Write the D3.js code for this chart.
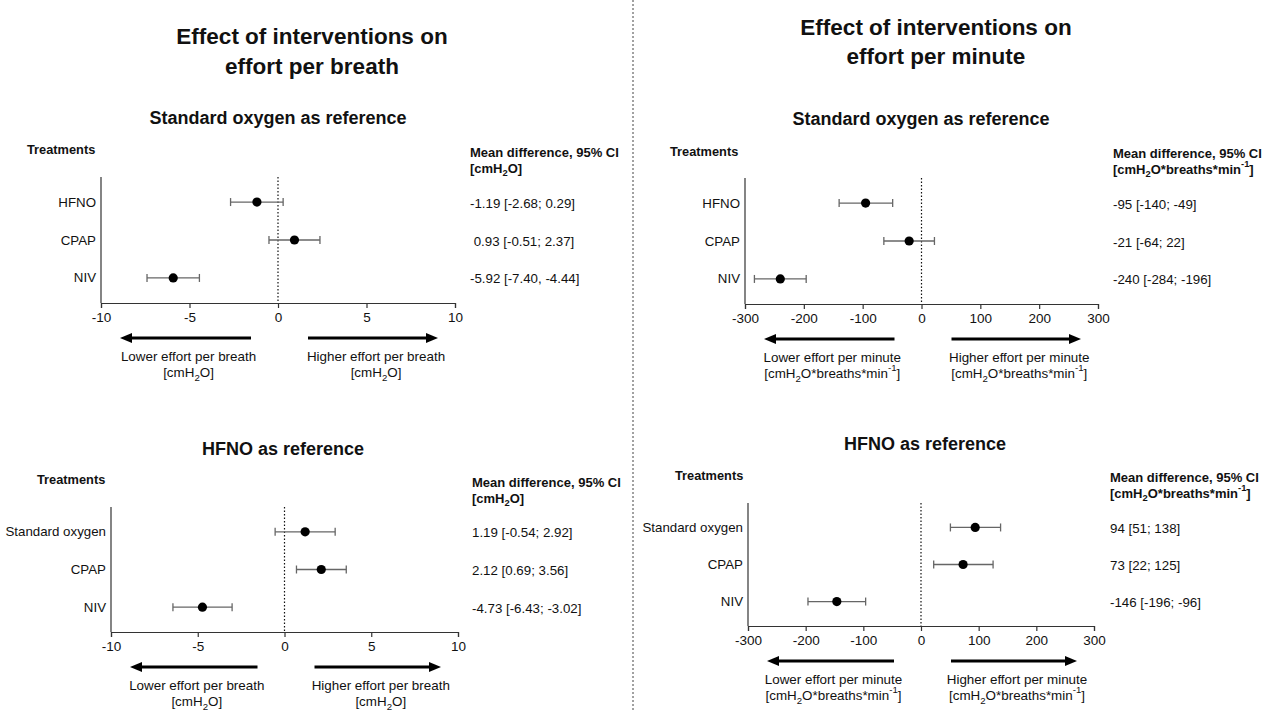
<!DOCTYPE html>
<html><head><meta charset="utf-8">
<script src="https://cdn.jsdelivr.net/npm/d3@7"></script>
<style>
html,body{margin:0;padding:0;background:#fff;}
svg text{font-family:"Liberation Sans",Arial,sans-serif;fill:#111;}
</style></head>
<body>
<svg id="chart" width="1266" height="711"></svg>
<script>
// ---------- DATA ----------
const rowsSO = ["HFNO", "CPAP", "NIV"];
const rowsHF = ["Standard oxygen", "CPAP", "NIV"];

const breathSOMean = [-1.19, 0.93, -5.92];
const breathSOLow  = [-2.68, -0.51, -7.40];
const breathSOHigh = [0.29, 2.37, -4.44];
const breathSOText = ["-1.19 [-2.68; 0.29]", " 0.93 [-0.51; 2.37]", "-5.92 [-7.40, -4.44]"];

const breathHFMean = [1.19, 2.12, -4.73];
const breathHFLow  = [-0.54, 0.69, -6.43];
const breathHFHigh = [2.92, 3.56, -3.02];
const breathHFText = ["1.19 [-0.54; 2.92]", "2.12 [0.69; 3.56]", "-4.73 [-6.43; -3.02]"];

const minuteSOMean = [-95, -21, -240];
const minuteSOLow  = [-140, -64, -284];
const minuteSOHigh = [-49, 22, -196];
const minuteSOText = ["-95 [-140; -49]", "-21 [-64; 22]", "-240 [-284; -196]"];

const minuteHFMean = [94, 73, -146];
const minuteHFLow  = [51, 22, -196];
const minuteHFHigh = [138, 125, -96];
const minuteHFText = ["94 [51; 138]", "73 [22; 125]", "-146 [-196; -96]"];

const breathTicks = [-10, -5, 0, 5, 10];
const minuteTicks = [-300, -200, -100, 0, 100, 200, 300];
const breathDomain = [-10, 10];
const minuteDomain = [-300, 300];

// ---------- LAYOUT ----------
const svg = d3.select("#chart");

// divider
svg.append("line").attr("x1", 633).attr("x2", 633).attr("y1", 0).attr("y2", 711)
  .attr("stroke", "#444").attr("stroke-width", 1).attr("stroke-dasharray", "2,2");

function unitText(sel, kind) {
  sel.append("tspan").text("[cmH");
  sel.append("tspan").attr("baseline-shift", "sub").attr("font-size", "0.72em").text("2");
  if (kind === "breath") {
    sel.append("tspan").text("O]");
  } else {
    sel.append("tspan").text("O*breaths*min");
    sel.append("tspan").attr("baseline-shift", "super").attr("font-size", "0.72em").text("-1");
    sel.append("tspan").text("]");
  }
}

function title(lines, cx, ys) {
  lines.forEach((t, i) => {
    svg.append("text").attr("x", cx).attr("y", ys[i]).attr("text-anchor", "middle")
      .attr("dominant-baseline", "central").attr("font-size", 22.5).attr("font-weight", "bold").text(t);
  });
}
title(["Effect of interventions on", "effort per breath"], 312, [36, 66]);
title(["Effect of interventions on", "effort per minute"], 936, [27, 56]);

const panels = [
  { sub: "Standard oxygen as reference", subX: 278, subY: 118, trX: 27, trY: 149,
    x0: 101, x1: 455, yTop: 177, yBot: 303, hdrX: 470, hdrY: 152,
    rows: rowsSO, mean: breathSOMean, low: breathSOLow, high: breathSOHigh, txt: breathSOText,
    domain: breathDomain, ticks: breathTicks, kind: "breath",
    lowLbl: "Lower effort per breath", highLbl: "Higher effort per breath" },
  { sub: "HFNO as reference", subX: 283, subY: 449, trX: 37, trY: 479,
    x0: 111, x1: 458, yTop: 507, yBot: 632, hdrX: 472, hdrY: 482,
    rows: rowsHF, mean: breathHFMean, low: breathHFLow, high: breathHFHigh, txt: breathHFText,
    domain: breathDomain, ticks: breathTicks, kind: "breath",
    lowLbl: "Lower effort per breath", highLbl: "Higher effort per breath" },
  { sub: "Standard oxygen as reference", subX: 921, subY: 119, trX: 670, trY: 151,
    x0: 745, x1: 1098, yTop: 178, yBot: 304, hdrX: 1113, hdrY: 153,
    rows: rowsSO, mean: minuteSOMean, low: minuteSOLow, high: minuteSOHigh, txt: minuteSOText,
    domain: minuteDomain, ticks: minuteTicks, kind: "minute",
    lowLbl: "Lower effort per minute", highLbl: "Higher effort per minute" },
  { sub: "HFNO as reference", subX: 925, subY: 444, trX: 675, trY: 475,
    x0: 748, x1: 1094, yTop: 503, yBot: 626, hdrX: 1110, hdrY: 477,
    rows: rowsHF, mean: minuteHFMean, low: minuteHFLow, high: minuteHFHigh, txt: minuteHFText,
    domain: minuteDomain, ticks: minuteTicks, kind: "minute",
    lowLbl: "Lower effort per minute", highLbl: "Higher effort per minute" }
];

panels.forEach(p => {
  const g = svg.append("g");
  const x = d3.scaleLinear().domain(p.domain).range([p.x0, p.x1]);
  const y = d3.scalePoint().domain(p.rows).range([p.yTop, p.yBot]).padding(0.66);

  g.append("text").attr("x", p.subX).attr("y", p.subY).attr("text-anchor", "middle")
    .attr("dominant-baseline", "central").attr("font-size", 18).attr("font-weight", "bold").text(p.sub);
  g.append("text").attr("x", p.trX).attr("y", p.trY).attr("dominant-baseline", "central")
    .attr("font-size", 12.8).attr("font-weight", "bold").text("Treatments");

  // header
  g.append("text").attr("x", p.hdrX).attr("y", p.hdrY).attr("dominant-baseline", "central")
    .attr("font-size", 13).attr("font-weight", "bold").text("Mean difference, 95% CI");
  const h2 = g.append("text").attr("x", p.hdrX).attr("y", p.hdrY + 15.5).attr("dominant-baseline", "central")
    .attr("font-size", 13).attr("font-weight", "bold");
  unitText(h2, p.kind);

  // y axis line
  g.append("line").attr("x1", p.x0).attr("x2", p.x0).attr("y1", p.yTop).attr("y2", p.yBot)
    .attr("stroke", "#333").attr("stroke-width", 1.2);

  // x axis
  const xa = g.append("g").attr("transform", `translate(0,${p.yBot})`)
    .call(d3.axisBottom(x).tickValues(p.ticks).tickSize(5).tickPadding(4).tickFormat(d3.format("d")));
  xa.select(".domain").attr("stroke", "#333").attr("stroke-width", 1.2);
  xa.selectAll(".tick line").attr("stroke", "#333").attr("stroke-width", 1.2);
  xa.selectAll(".tick text").attr("font-size", 13.5).attr("font-family", "Liberation Sans, Arial, sans-serif").attr("fill", "#111");
  xa.selectAll(".tick text").text(d => d < 0 ? "-" + Math.abs(d) : d);

  // zero line
  g.append("line").attr("x1", x(0)).attr("x2", x(0)).attr("y1", p.yTop).attr("y2", p.yBot)
    .attr("stroke", "#111").attr("stroke-width", 1.2).attr("stroke-dasharray", "1.5,2");

  // row labels
  g.selectAll(".rl").data(p.rows).join("text")
    .attr("x", p.x0 - 5).attr("y", d => y(d)).attr("text-anchor", "end")
    .attr("dominant-baseline", "central").attr("font-size", 13.3).text(d => d);

  // error bars
  p.rows.forEach((r, i) => {
    const yy = y(r);
    g.append("line").attr("x1", x(p.low[i])).attr("x2", x(p.high[i])).attr("y1", yy).attr("y2", yy)
      .attr("stroke", "#666").attr("stroke-width", 1.3);
    [p.low[i], p.high[i]].forEach(v => {
      g.append("line").attr("x1", x(v)).attr("x2", x(v)).attr("y1", yy - 4).attr("y2", yy + 4)
        .attr("stroke", "#666").attr("stroke-width", 1.3);
    });
    g.append("circle").attr("cx", x(p.mean[i])).attr("cy", yy).attr("r", 4.6).attr("fill", "#000");
    g.append("text").attr("x", p.hdrX).attr("y", yy + 1).attr("dominant-baseline", "central")
      .attr("font-size", 13.3).attr("xml:space", "preserve").style("white-space", "pre").text(p.txt[i]);
  });

  // arrows
  const ay = p.yBot + 35;
  const z = x(0);
  const arrows = [
    { from: z - 27, to: p.x0 + 19, lbl: p.lowLbl },
    { from: z + 30, to: p.x1 - 17, lbl: p.highLbl }
  ];
  arrows.forEach(a => {
    const dir = Math.sign(a.to - a.from);
    const headLen = 12, headH = 5;
    g.append("line").attr("x1", a.from).attr("x2", a.to - dir * headLen + dir * 1).attr("y1", ay).attr("y2", ay)
      .attr("stroke", "#000").attr("stroke-width", 3);
    g.append("path").attr("d", `M${a.to},${ay} L${a.to - dir * headLen},${ay - headH} L${a.to - dir * headLen},${ay + headH} Z`)
      .attr("fill", "#000");
    const cx = (a.from + a.to) / 2 + 3;
    g.append("text").attr("x", cx).attr("y", p.yBot + 53).attr("text-anchor", "middle")
      .attr("dominant-baseline", "central").attr("font-size", 13.4).text(a.lbl);
    const u = g.append("text").attr("x", cx).attr("y", p.yBot + 69).attr("text-anchor", "middle")
      .attr("dominant-baseline", "central").attr("font-size", 13.4);
    unitText(u, p.kind);
  });
});
</script>
</body></html>
